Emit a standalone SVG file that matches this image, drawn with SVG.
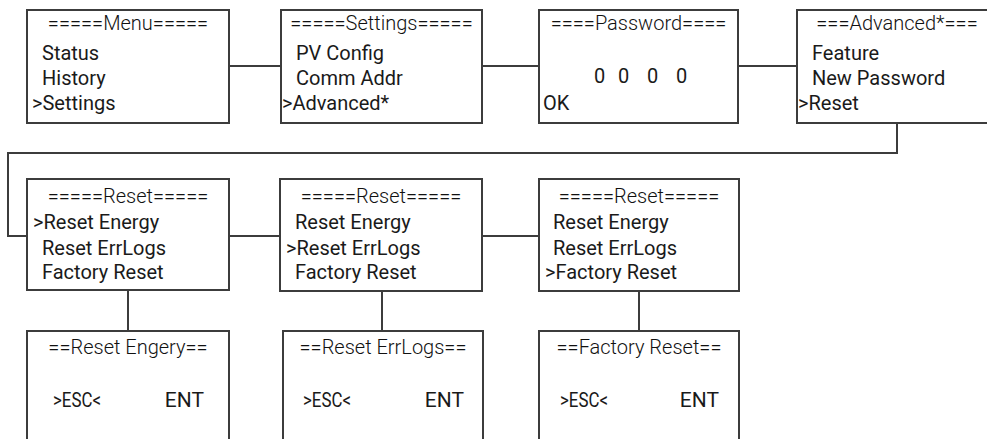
<svg xmlns="http://www.w3.org/2000/svg" width="987" height="439" viewBox="0 0 987 439">
<style>
  .box { fill: #ffffff; stroke: #3c3c3c; stroke-width: 2; }
  .conn { fill: none; stroke: #3c3c3c; stroke-width: 2; }
  text { font-family: Roboto, "Liberation Sans", sans-serif; font-size: 20px; fill: #1a1a1a; }
  .title { font-weight: 300; text-anchor: middle; fill: #111111; }
  .end { text-anchor: end; }
  .key { font-size: 21px; }
</style>
<rect width="987" height="439" fill="#ffffff"/>
<g id="connectors">
  <line class="conn" x1="229" y1="66" x2="281" y2="66"/>
  <line class="conn" x1="482" y1="66" x2="539" y2="66"/>
  <line class="conn" x1="738" y1="66" x2="797" y2="66"/>
  <polyline class="conn" points="897,123 897,153 8,153 8,236 27,236"/>
  <line class="conn" x1="229" y1="236" x2="280" y2="236"/>
  <line class="conn" x1="482" y1="236" x2="539" y2="236"/>
  <line class="conn" x1="128" y1="290" x2="128" y2="331"/>
  <line class="conn" x1="382" y1="291" x2="382" y2="331"/>
  <line class="conn" x1="639" y1="291" x2="639" y2="331"/>
</g>
<g id="menu">
  <rect class="box" x="27" y="10" width="202" height="113"/>
  <text class="title" x="128" y="30">=====Menu=====</text>
  <text x="42" y="60">Status</text>
  <text x="42" y="85">History</text>
  <text x="32" y="110">&gt;Settings</text>
</g>
<g id="settings">
  <rect class="box" x="281" y="10" width="201" height="113"/>
  <text class="title" x="381.5" y="30">=====Settings=====</text>
  <text x="296" y="60">PV Config</text>
  <text x="296" y="85">Comm Addr</text>
  <text x="282" y="110">&gt;Advanced*</text>
</g>
<g id="password">
  <rect class="box" x="539" y="10" width="199" height="113"/>
  <text class="title" x="638.5" y="30">====Password====</text>
  <text y="83"><tspan x="594">0</tspan> <tspan x="618">0</tspan> <tspan x="647">0</tspan> <tspan x="676">0</tspan></text>
  <text x="543" y="110">OK</text>
</g>
<g id="advanced">
  <rect class="box" x="797" y="10" width="200" height="113"/>
  <text class="title" x="897" y="30">===Advanced*===</text>
  <text x="812" y="60">Feature</text>
  <text x="812" y="85">New Password</text>
  <text x="798" y="110">&gt;Reset</text>
</g>
<g id="reset1">
  <rect class="box" x="27" y="179" width="202" height="111"/>
  <text class="title" x="128" y="203">=====Reset=====</text>
  <text x="33" y="229">&gt;Reset Energy</text>
  <text x="42" y="255">Reset ErrLogs</text>
  <text x="42" y="279">Factory Reset</text>
</g>
<g id="reset2">
  <rect class="box" x="280" y="179" width="202" height="112"/>
  <text class="title" x="381" y="203">=====Reset=====</text>
  <text x="295" y="229">Reset Energy</text>
  <text x="286" y="255">&gt;Reset ErrLogs</text>
  <text x="295" y="279">Factory Reset</text>
</g>
<g id="reset3">
  <rect class="box" x="539" y="179" width="200" height="112"/>
  <text class="title" x="639" y="203">=====Reset=====</text>
  <text x="553" y="229">Reset Energy</text>
  <text x="553" y="255">Reset ErrLogs</text>
  <text x="545" y="279">&gt;Factory Reset</text>
</g>
<g id="confirm-energy">
  <rect class="box" x="27" y="331" width="202" height="120"/>
  <text class="title" x="128" y="354">==Reset Engery==</text>
  <text class="key" x="53" y="407" textLength="48" lengthAdjust="spacingAndGlyphs">&gt;ESC&lt;</text>
  <text class="key end" x="204" y="407">ENT</text>
</g>
<g id="confirm-errlogs">
  <rect class="box" x="283" y="331" width="200" height="120"/>
  <text class="title" x="383" y="354">==Reset ErrLogs==</text>
  <text class="key" x="303" y="407" textLength="48" lengthAdjust="spacingAndGlyphs">&gt;ESC&lt;</text>
  <text class="key end" x="464" y="407">ENT</text>
</g>
<g id="confirm-factory">
  <rect class="box" x="539" y="331" width="200" height="120"/>
  <text class="title" x="639" y="354">==Factory Reset==</text>
  <text class="key" x="560" y="407" textLength="48" lengthAdjust="spacingAndGlyphs">&gt;ESC&lt;</text>
  <text class="key end" x="719" y="407">ENT</text>
</g>
</svg>
